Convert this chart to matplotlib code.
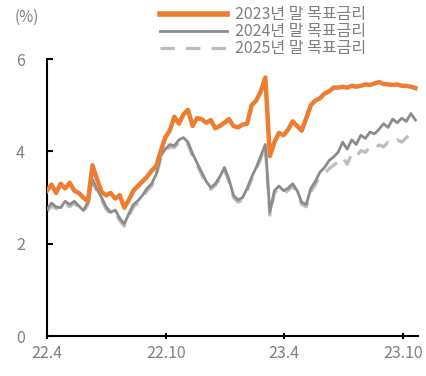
import pandas as pd
import matplotlib
matplotlib.use("Agg")
import matplotlib.pyplot as plt

plt.rcParams['font.family'] = ['Noto Sans CJK KR', 'DejaVu Sans']

# weekly observations starting 2022-04-01
start = "2022-04-01"
labels = ["2023년 말 목표금리", "2024년 말 목표금리", "2025년 말 목표금리"]

rate_2023 = [3.15, 3.28, 3.10, 3.30, 3.20, 3.32, 3.15, 3.10, 3.00, 2.92,
             3.70, 3.40, 3.12, 3.05, 3.10, 2.98, 3.05, 2.78, 2.95, 3.15,
             3.25, 3.35, 3.45, 3.58, 3.68, 4.00, 4.30, 4.45, 4.75, 4.60,
             4.80, 4.90, 4.55, 4.72, 4.70, 4.62, 4.68, 4.50, 4.55, 4.62,
             4.70, 4.55, 4.52, 4.58, 4.60, 5.00, 5.10, 5.30, 5.60, 3.90,
             4.20, 4.40, 4.35, 4.47, 4.65, 4.55, 4.45, 4.72, 5.00, 5.10,
             5.15, 5.25, 5.30, 5.38, 5.38, 5.40, 5.38, 5.42, 5.40, 5.42,
             5.45, 5.44, 5.47, 5.50, 5.46, 5.45, 5.44, 5.45, 5.42, 5.42,
             5.40, 5.37]

rate_2024 = [2.75, 2.88, 2.80, 2.78, 2.92, 2.85, 2.92, 2.82, 2.72, 2.90,
             3.40, 3.18, 3.00, 2.80, 2.68, 2.73, 2.55, 2.43, 2.65, 2.85,
             2.93, 3.05, 3.20, 3.30, 3.50, 3.90, 4.05, 4.15, 4.12, 4.25,
             4.30, 4.20, 3.95, 3.75, 3.55, 3.35, 3.22, 3.30, 3.45, 3.65,
             3.40, 3.05, 2.95, 3.00, 3.20, 3.45, 3.65, 3.90, 4.15, 2.68,
             3.15, 3.25, 3.15, 3.20, 3.30, 3.15, 2.90, 2.85, 3.20, 3.35,
             3.55, 3.65, 3.80, 3.88, 3.98, 4.20, 4.05, 4.25, 4.15, 4.35,
             4.28, 4.42, 4.38, 4.48, 4.60, 4.52, 4.70, 4.62, 4.72, 4.65,
             4.82, 4.68]

rate_2025 = [2.70, 2.82, 2.76, 2.74, 2.86, 2.80, 2.88, 2.78, 2.68, 2.85,
             3.35, 3.12, 2.95, 2.75, 2.64, 2.68, 2.50, 2.38, 2.60, 2.80,
             2.88, 3.00, 3.15, 3.25, 3.45, 3.85, 4.00, 4.10, 4.08, 4.20,
             4.26, 4.15, 3.90, 3.70, 3.50, 3.30, 3.18, 3.26, 3.40, 3.60,
             3.35, 3.00, 2.90, 2.95, 3.15, 3.40, 3.60, 3.85, 4.10, 2.62,
             3.10, 3.20, 3.10, 3.15, 3.25, 3.10, 2.85, 2.80, 3.12, 3.28,
             3.45, 3.52, 3.62, 3.70, 3.78, 3.88, 3.72, 3.95, 3.88, 4.02,
             3.98, 4.10, 4.05, 4.14, 4.10, 4.20, 4.15, 4.25, 4.20, 4.30,
             4.38, 4.32]

tick_dates = ["2022-04-01", "2022-10-01", "2023-04-01", "2023-10-01"]
tick_labels = ["22.4", "22.10", "23.4", "23.10"]

dates = pd.date_range(start, periods=len(rate_2023), freq="7D")

fig = plt.figure(figsize=(4.27, 3.76), dpi=100)
ax = fig.add_axes([0.110, 0.106, 0.869, 0.737])

ax.plot(dates, rate_2025, color="#BDBDBD", lw=2.3, ls=(0, (4.5, 3.5)), label=labels[2], zorder=2)
ax.plot(dates, rate_2024, color="#8C8C8C", lw=2.0, label=labels[1], zorder=3)
ax.plot(dates, rate_2023, color="#ED7D31", lw=3.2, label=labels[0], zorder=4)

ax.set_ylim(0, 6)
ax.set_yticks([0, 2, 4, 6])
ax.set_xlim(pd.Timestamp("2022-04-01"), pd.Timestamp("2023-10-24"))
ax.set_xticks(pd.to_datetime(tick_dates))
ax.set_xticklabels(tick_labels)

for s in ["top", "right"]:
    ax.spines[s].set_visible(False)
for s in ["left", "bottom"]:
    ax.spines[s].set_linewidth(1.5)
    ax.spines[s].set_color("black")

ax.tick_params(axis="y", direction="in", length=4, width=1.5, pad=16,
               labelsize=11.5, labelcolor="#7F7F7F")
ax.tick_params(axis="x", direction="inout", length=5, width=1.5, pad=4,
               labelsize=11.5, labelcolor="#7F7F7F")

fig.text(0.035, 0.955, "(%)", fontsize=11, color="#7F7F7F", va="center")

# legend order follows the reference
h, l = ax.get_legend_handles_labels()
order = [2, 1, 0]
leg = fig.legend([h[i] for i in order], [l[i] for i in order],
                 loc="upper left", bbox_to_anchor=(0.36, 1.0),
                 frameon=False, fontsize=11.5, handlelength=4.2,
                 handletextpad=0.5, labelspacing=0.0, borderaxespad=0)
for t in leg.get_texts():
    t.set_color("#7F7F7F")
leg.get_lines()[0].set_linewidth(4)

fig.savefig("out.png", dpi=100)
